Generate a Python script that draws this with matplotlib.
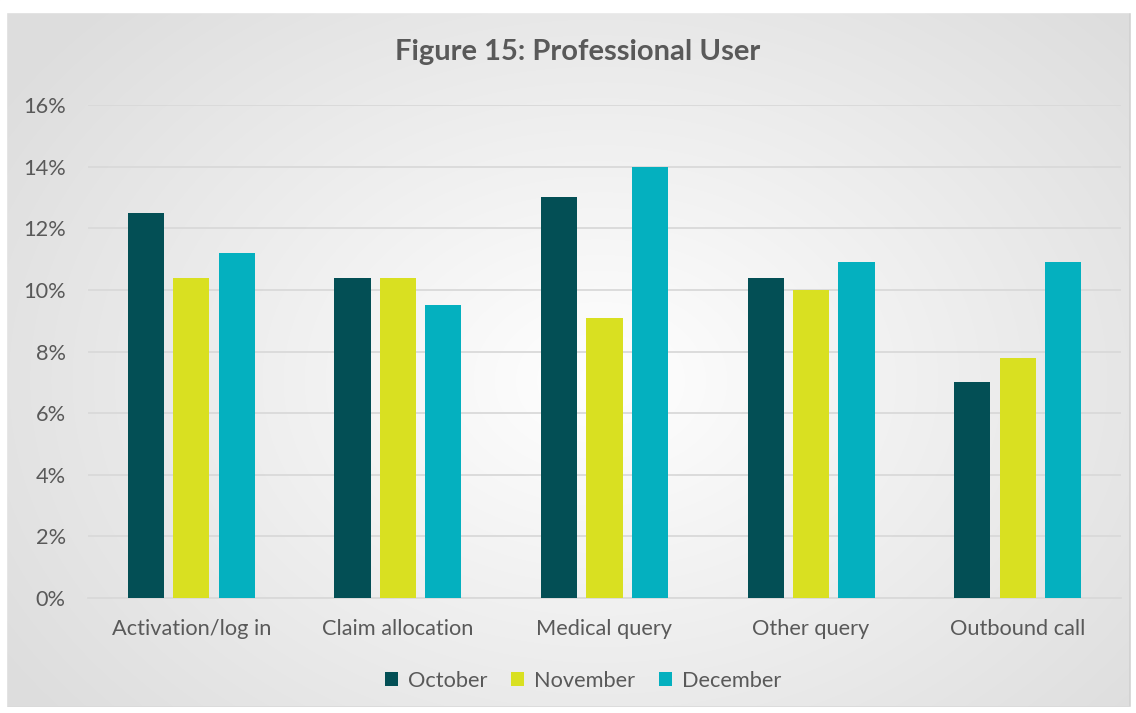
import numpy as np
import matplotlib.pyplot as plt
from matplotlib.patches import Rectangle
from matplotlib.ticker import FuncFormatter

categories = ["Activation/log in", "Claim allocation", "Medical query", "Other query", "Outbound call"]
october = [12.5, 10.4, 13.0, 10.4, 7.0]
november = [10.4, 10.4, 9.1, 10.0, 7.8]
december = [11.2, 9.5, 14.0, 10.9, 10.9]
series_names = ["October", "November", "December"]
colors = ["#034f55", "#d9e021", "#04b0bf"]

FONT = "Lato"
W, H = 1136, 713
fig = plt.figure(figsize=(W / 100, H / 100), dpi=100)
fig.patch.set_facecolor("white")

# radial gradient background
bg = fig.add_axes([0, 0, 1, 1], zorder=0)
yy, xx = np.mgrid[0:H, 0:W]
r = np.sqrt(((xx - 600) / 700.0) ** 2 + ((yy - 380) / 520.0) ** 2)
r = np.clip(r, 0, 1)
shade = 1.0 - 0.13 * r
img = np.dstack([shade, shade, shade])
bg.imshow(img, extent=[0, W, H, 0], aspect="auto")
bg.add_patch(Rectangle((6, 12), W - 12, H - 18, fill=False, edgecolor="#d0d0d0", lw=1.2))
bg.add_patch(Rectangle((0, 0), 6, H, color="white"))
bg.add_patch(Rectangle((0, 0), W, 12, color="white"))
bg.add_patch(Rectangle((W - 5, 0), 5, H, color="white"))
bg.add_patch(Rectangle((0, H - 6), W, 6, color="white"))
bg.set_xlim(0, W)
bg.set_ylim(H, 0)
bg.axis("off")

ax = fig.add_axes([88 / W, 1 - 598 / H, (1121 - 88) / W, (598 - 105) / H], zorder=1)
ax.patch.set_alpha(0)

x = np.arange(len(categories))
width = 0.175
offs = [-0.22, 0, 0.22]
for vals, name, c, o in zip([october, november, december], series_names, colors, offs):
    ax.bar(x + o, vals, width, color=c, label=name, zorder=3)

ax.set_xlim(-0.5, len(categories) - 0.5)
ax.set_ylim(0, 16)
ax.set_yticks(np.arange(0, 17, 2))
ax.yaxis.set_major_formatter(FuncFormatter(lambda v, p: f"{v:.0f}%"))
ax.set_xticks(x)
ax.set_xticklabels(categories)
ax.grid(axis="y", color="#d9d9d9", lw=1.3, zorder=0)
for s in ["top", "right", "left"]:
    ax.spines[s].set_visible(False)
ax.spines["bottom"].set_color("#d9d9d9")
ax.spines["bottom"].set_linewidth(1.3)
ax.tick_params(axis="both", length=0, labelsize=15.7, labelcolor="#595959")
ax.tick_params(axis="x", pad=15)
ax.tick_params(axis="y", pad=16)
for t in ax.get_xticklabels() + ax.get_yticklabels():
    t.set_fontfamily(FONT)

fig.text(578 / W, 1 - 52 / H, "Figure 15: Professional User", ha="center", va="center",
         fontsize=21, fontweight="bold", color="#595959", fontfamily=FONT)

leg = ax.legend(loc="center", bbox_to_anchor=((583 - 88) / (1121 - 88), 1 - (681 - 105) / (598 - 105)),
                ncol=3, frameon=False,
                prop={"family": FONT, "size": 15.7}, handlelength=0.6, handleheight=0.6,
                handletextpad=0.45, columnspacing=1.1)
for t in leg.get_texts():
    t.set_color("#595959")

fig.savefig("out.png", dpi=100)
